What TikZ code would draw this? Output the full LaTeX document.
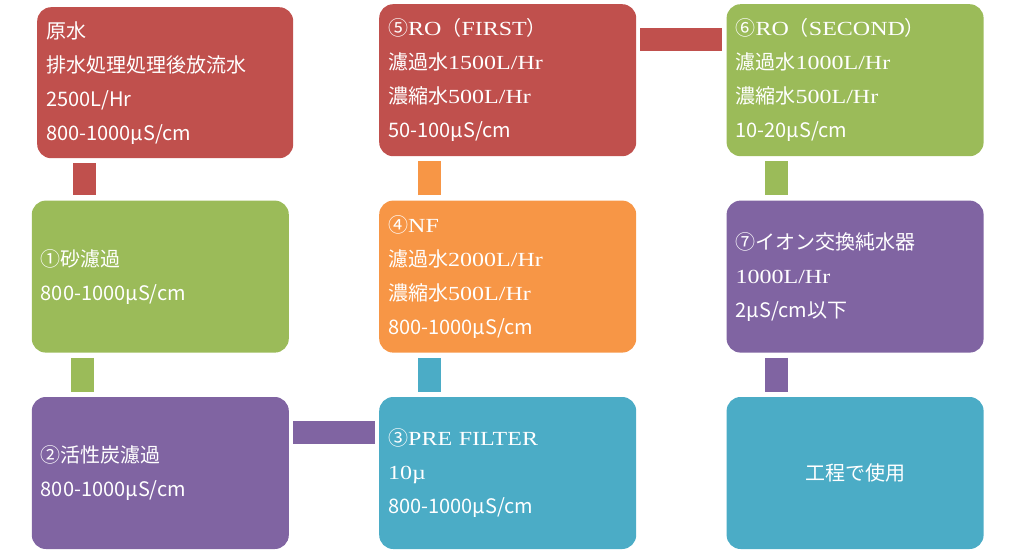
\documentclass[tikz,border=0pt]{standalone}
\usepackage{fontspec}
\setmainfont{Noto Sans CJK JP}
\newfontfamily\serlat{Liberation Serif}[FakeStretch=1.2]
\usetikzlibrary{positioning}
\usetikzlibrary{calc}

\definecolor{cred}{HTML}{C0504D}
\definecolor{cgreen}{HTML}{9BBB59}
\definecolor{cpurple}{HTML}{8064A2}
\definecolor{cteal}{HTML}{4BACC6}
\definecolor{corange}{HTML}{F79646}

\newcommand\srf[1]{{\serlat\fontsize{20}{34}\selectfont #1}}

\begin{document}
\begin{tikzpicture}[x=1pt, y=-1pt,
    stage/.style={rounded corners=14pt, text=white, minimum width=257pt, minimum height=152pt,
                  text width=239pt, inner xsep=9pt, inner ysep=0pt, align=left,
                  font=\fontsize{20}{34}\selectfont},
    link/.style={line width=23pt, draw=#1, shorten <=5pt, shorten >=5pt},
    hlink/.style={link=#1, shorten <=4pt, shorten >=4pt}]
        \useasboundingbox (0,0) rectangle (1015,551);

        % left column
        \node [stage, fill=cred, anchor=north west, minimum width=256pt, minimum height=151pt, text width=238pt] (st0) at (37,7)
            {原水\\排水処理処理後放流水\\2500L/Hr\\800-1000µS/cm};

        % middle column
        \node [stage, fill=cred, anchor=north west] (st5) at (379,4)
            {⑤\srf{RO}（\srf{FIRST}）\\濾過水\srf{1500L/Hr}\\濃縮水\srf{500L/Hr}\\50-100µS/cm};
        \node [stage, fill=corange] (st4) [below = 44pt of st5]
            {④\srf{NF}\\濾過水\srf{2000L/Hr}\\濃縮水\srf{500L/Hr}\\800-1000µS/cm};
        \node [stage, fill=cteal] (st3) [below = 44pt of st4]
            {③\srf{PRE FILTER}\\\srf{10µ}\\800-1000µS/cm};

        \node [stage, fill=cgreen] (st1) [left = 90pt of st4]   {①砂濾過\\800-1000µS/cm};
        \node [stage, fill=cpurple] (st2) [left = 90pt of st3]  {②活性炭濾過\\800-1000µS/cm};

        % right column
        \node [stage, fill=cgreen] (st6) [right = 90pt of st5]
            {⑥\srf{RO}（\srf{SECOND}）\\濾過水\srf{1000L/Hr}\\濃縮水\srf{500L/Hr}\\10-20µS/cm};
        \node [stage, fill=cpurple] (st7) [below = 44pt of st6]
            {⑦イオン交換純水器\\\srf{1000L/Hr}\\2µS/cm以下};
        \node [stage, fill=cteal, align=center] (use) [below = 44pt of st7] {工程で使用};

        \path [link=cred]    ([xshift=47.5pt]st0.south west) -- ([xshift=47.5pt]st0.south west |- st1.north);
        \path [link=cgreen]  ([xshift=51pt]st1.south west) -- ([xshift=51pt]st2.north west);
        \path [hlink=cpurple] ([yshift=-35.5pt]st2.north east) -- ([yshift=-35.5pt]st3.north west);
        \path [link=cteal]   ([xshift=50.5pt]st3.north west) -- ([xshift=50.5pt]st4.south west);
        \path [link=corange] ([xshift=50.5pt]st4.north west) -- ([xshift=50.5pt]st5.south west);
        \path [hlink=cred]   ([yshift=-35.5pt]st5.north east) -- ([yshift=-35.5pt]st6.north west);
        \path [link=cgreen]  ([xshift=50.5pt]st6.south west) -- ([xshift=50.5pt]st7.north west);
        \path [link=cpurple] ([xshift=50.5pt]st7.south west) -- ([xshift=50.5pt]use.north west);
\end{tikzpicture}
\end{document}
